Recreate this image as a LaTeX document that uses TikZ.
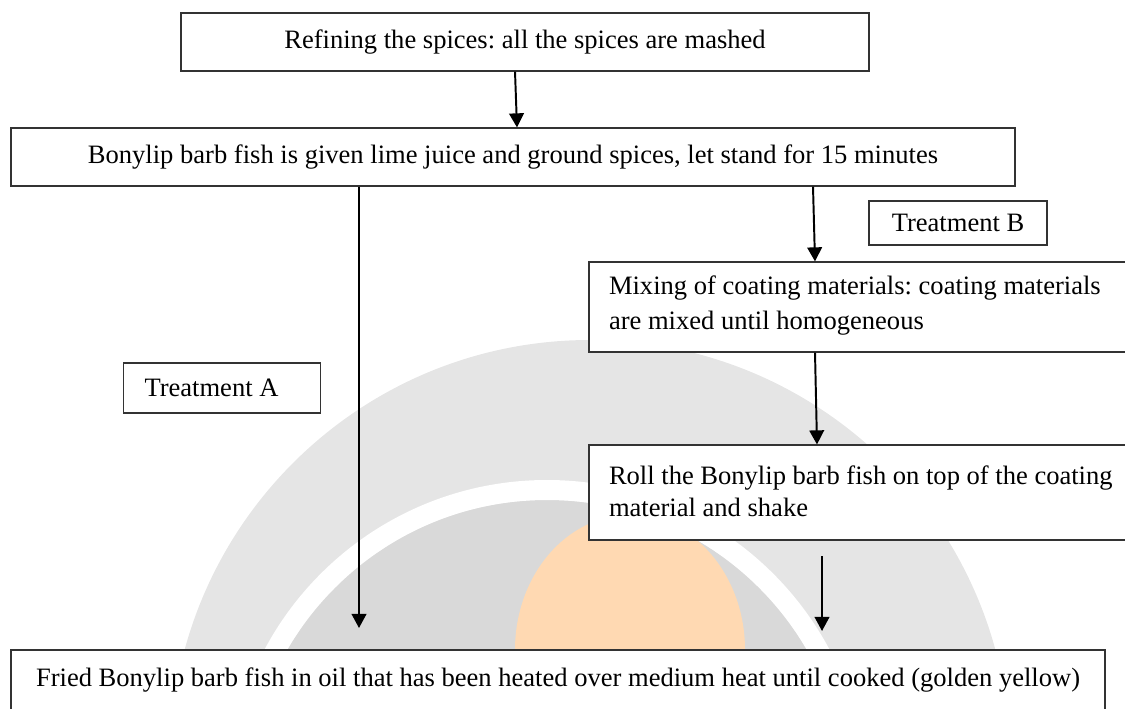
\documentclass[tikz,border=0pt]{standalone}
\usepackage{fontspec}
\setmainfont{Liberation Serif}
\usetikzlibrary{arrows.meta}
\usetikzlibrary{positioning}

\begin{document}
\begin{tikzpicture}[
  x=0.018cm, y=-0.018cm,
  box/.style 2 args={
    rectangle,
    draw=black!80,
    line width=0.6pt,
    fill=white,
    minimum width=#1*0.018cm,
    minimum height=#2*0.018cm,
    inner sep=0pt,
    font=\fontsize{13.6}{17.9}\selectfont\frenchspacing},
  lbox/.style={
    align=flush left,
    inner xsep=20*0.018cm,
    text width=#1*0.018cm},
  flow/.style={-{Triangle[length=7.2pt,width=7.5pt]}, line width=1pt}]
  \clip (0,0) rectangle (1125,709);
  % draw faded seal behind the chart
  \fill[gray!20] (590,760) circle[radius=420];
  \fill[gray!30] (547,800) circle[radius=300];
  \draw[white, line width=20*0.018cm] (547,800) circle[radius=310];
  \fill[orange!30] (630,650) ellipse[x radius=115, y radius=135];
  % draw steps of the common preparation
  \node[box={688}{58}] (spice) at (525,42)
    {Refining the spices: all the spices are mashed};
  \node[box={1004}{58}] (lime) at (513,157)
    {Bonylip barb fish is given lime juice and ground spices, let stand for 15 minutes};
  % draw treatment labels
  \node[box={178}{44}] (treatB) at (958,223) {Treatment B};
  \node[box={197}{50}, lbox={155}, inner xsep=21*0.018cm] (treatA) at (222,388) {Treatment A};
  % draw coating steps of treatment B
  \node[box={570}{90}, lbox={530}, text height=15*0.018cm, text depth=39*0.018cm] (mix) at (874,307)
    {Mixing of coating materials: coating materials\\are mixed until homogeneous};
  \node[box={570}{95}, lbox={530}, text height=15*0.018cm, text depth=32*0.018cm,
    font=\fontsize{13.6}{16.9}\selectfont\frenchspacing] (roll) at (874,492.5)
    {Roll the Bonylip barb fish on top of the coating\\material and shake};
  % draw final frying step
  \node[box={1094}{60}] (fry) at (558,680)
    {Fried Bonylip barb fish in oil that has been heated over medium heat until cooked (golden yellow)};
  % draw links between steps
  \foreach \x/\a/\y/\b in {515/spice/517/lime, 813/lime/815/mix, 815/mix/817/roll}
    \draw[flow] (\x,0 |- \a.south) -- (\y,0 |- \b.north);
  % draw links into the frying step
  \coordinate (endA) at (359,628);
  \coordinate (startB) at (822,556);
  \coordinate (endB) at (822,631);
  \draw[flow] (359,0 |- lime.south) -- (endA);
  \draw[flow] (startB) -- (endB);
\end{tikzpicture}
\end{document}
